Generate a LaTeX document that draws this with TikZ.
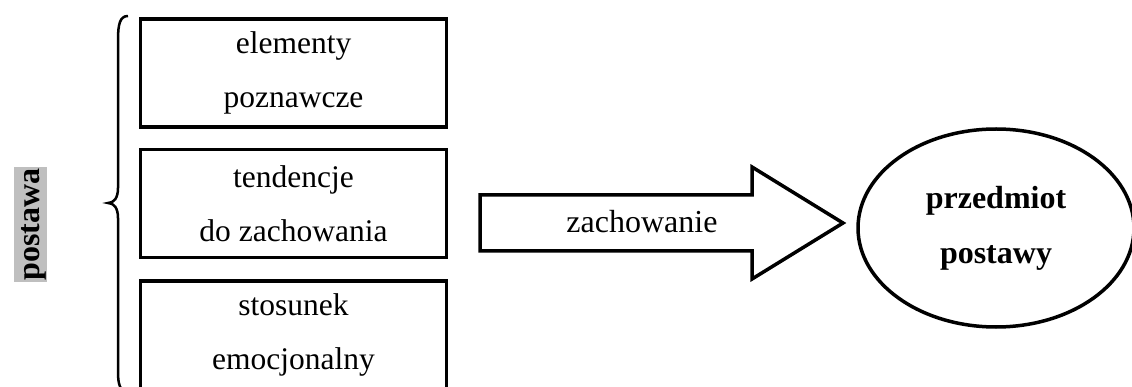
\documentclass[tikz,border=0pt]{standalone}
\usepackage{fontspec}
\setmainfont{Liberation Serif}
\usetikzlibrary{positioning,shapes.geometric}

\tikzset{
  part/.style={draw, line width=3.5pt, minimum width=306pt, minimum height=108pt,
    inner sep=0pt, align=center, font=\fontsize{31.5}{54}\selectfont},
  goal/.style={draw, ellipse, line width=3.5pt, minimum width=276pt, minimum height=198pt,
    inner sep=0pt, align=center, font=\fontsize{32}{55}\selectfont\bfseries},
}

\begin{document}
\begin{tikzpicture}[x=1pt,y=-1pt,line join=miter]
\useasboundingbox (0,0) rectangle (1132,387);
% skladniki postawy
\node[part] (cog) at (293.5,73) {elementy\\poznawcze};
\node[part, below=19pt of cog] (beh) {tendencje\\do zachowania};
\node[part, below=20pt of beh] (emo) {stosunek\\emocjonalny};
% klamra
\draw[line width=2.5pt] (128,16) .. controls (120,16) and (118,24) .. (118,40)
  -- (118,188) .. controls (118,198) and (114,203) .. (108,203)
  .. controls (114,203) and (118,208) .. (118,218)
  -- (118,372) .. controls (118,384) and (120,392) .. (128,392);
\node[fill=black!25, rotate=90, inner xsep=1pt, inner ysep=0pt, text height=25pt, text depth=8pt,
  font=\fontsize{32}{32}\selectfont\bfseries] (att) at (30.5,224.5) {postawa};
% strzalka
\coordinate (a1) at (480,195);
\draw[line width=3.5pt] (a1) -- (752,195) -- (752,167) -- (843,223) -- (752,279)
  -- (752,251) -- (480,251) -- cycle;
\node[font=\fontsize{32}{32}\selectfont] (act) at (642,222) {zachowanie};
% przedmiot
\node[goal] (obj) at (996,228) {przedmiot\\postawy};
\end{tikzpicture}
\end{document}
